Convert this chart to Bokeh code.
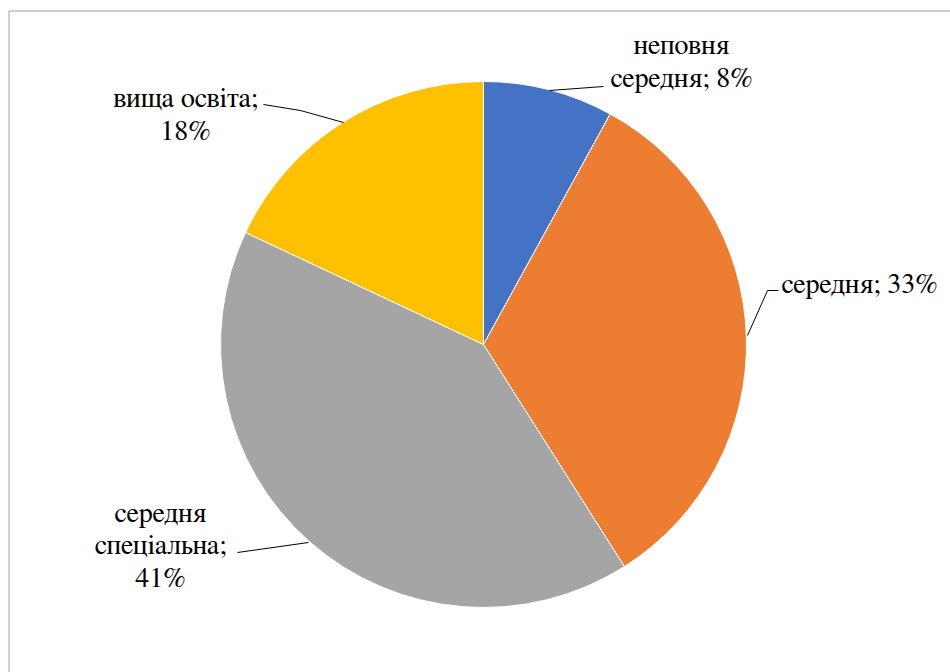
import math
from bokeh.plotting import figure
from bokeh.models import Range1d, ColumnDataSource
from bokeh.core.properties import value
from bokeh.embed import file_html
from bokeh.resources import INLINE

# data
categories = ["неповня середня", "середня", "середня спеціальна", "вища освіта"]
shares = [8, 33, 41, 18]
colors = ["#4472C4", "#ED7D31", "#A5A5A5", "#FFC000"]
label_texts = ["неповня\nсередня; 8%", "середня; 33%", "середня\nспеціальна;\n41%", "вища освіта;\n18%"]

W, H = 950, 672
def Y(y):
    return H - y

cx, cy, R = 483, Y(344), 263

p = figure(width=W, height=H, x_range=Range1d(0, W), y_range=Range1d(0, H),
           output_backend="svg", toolbar_location=None, min_border=0,
           outline_line_color=None, background_fill_color="white")
p.axis.visible = False
p.grid.visible = False

total = sum(shares)
starts, ends = [], []
cum = 0
for s in shares:
    starts.append(math.pi / 2 - 2 * math.pi * cum / total)
    cum += s
    ends.append(math.pi / 2 - 2 * math.pi * cum / total)

src = ColumnDataSource(dict(start=starts, end=ends, color=colors, cat=categories))
p.wedge(x=cx, y=cy, radius=R, start_angle="start", end_angle="end", direction="clock",
        fill_color="color", line_color="white", line_width=1, source=src)

# leader lines (layout)
leaders = [
    ([549, 603], [90, 86]),
    ([747, 767, 778], [335, 290, 290]),
    ([308, 237], [542, 552]),
    ([343, 300, 263], [122, 110, 104]),
]
for xs, ys in leaders:
    p.line(xs, [Y(v) for v in ys], line_color="black", line_width=1)

# labels (layout positions)
label_pos = [(681, 62, "center"), (781, 284, "left"), (160, 546, "center"), (185, 115, "center")]
for (lx, ly, al), t in zip(label_pos, label_texts):
    p.text(x=[lx], y=[Y(ly)], text=[t], text_align=al, text_baseline="middle",
           text_font=value("FreeSerif"), text_font_size="28px",
           text_color="black", text_line_height=1.15)

# frame
p.line([8.5, 8.5, W], [0, Y(10.5), Y(10.5)], line_color="#a0a0a0", line_width=1)

open("out.html", "w").write(file_html(p, INLINE))
